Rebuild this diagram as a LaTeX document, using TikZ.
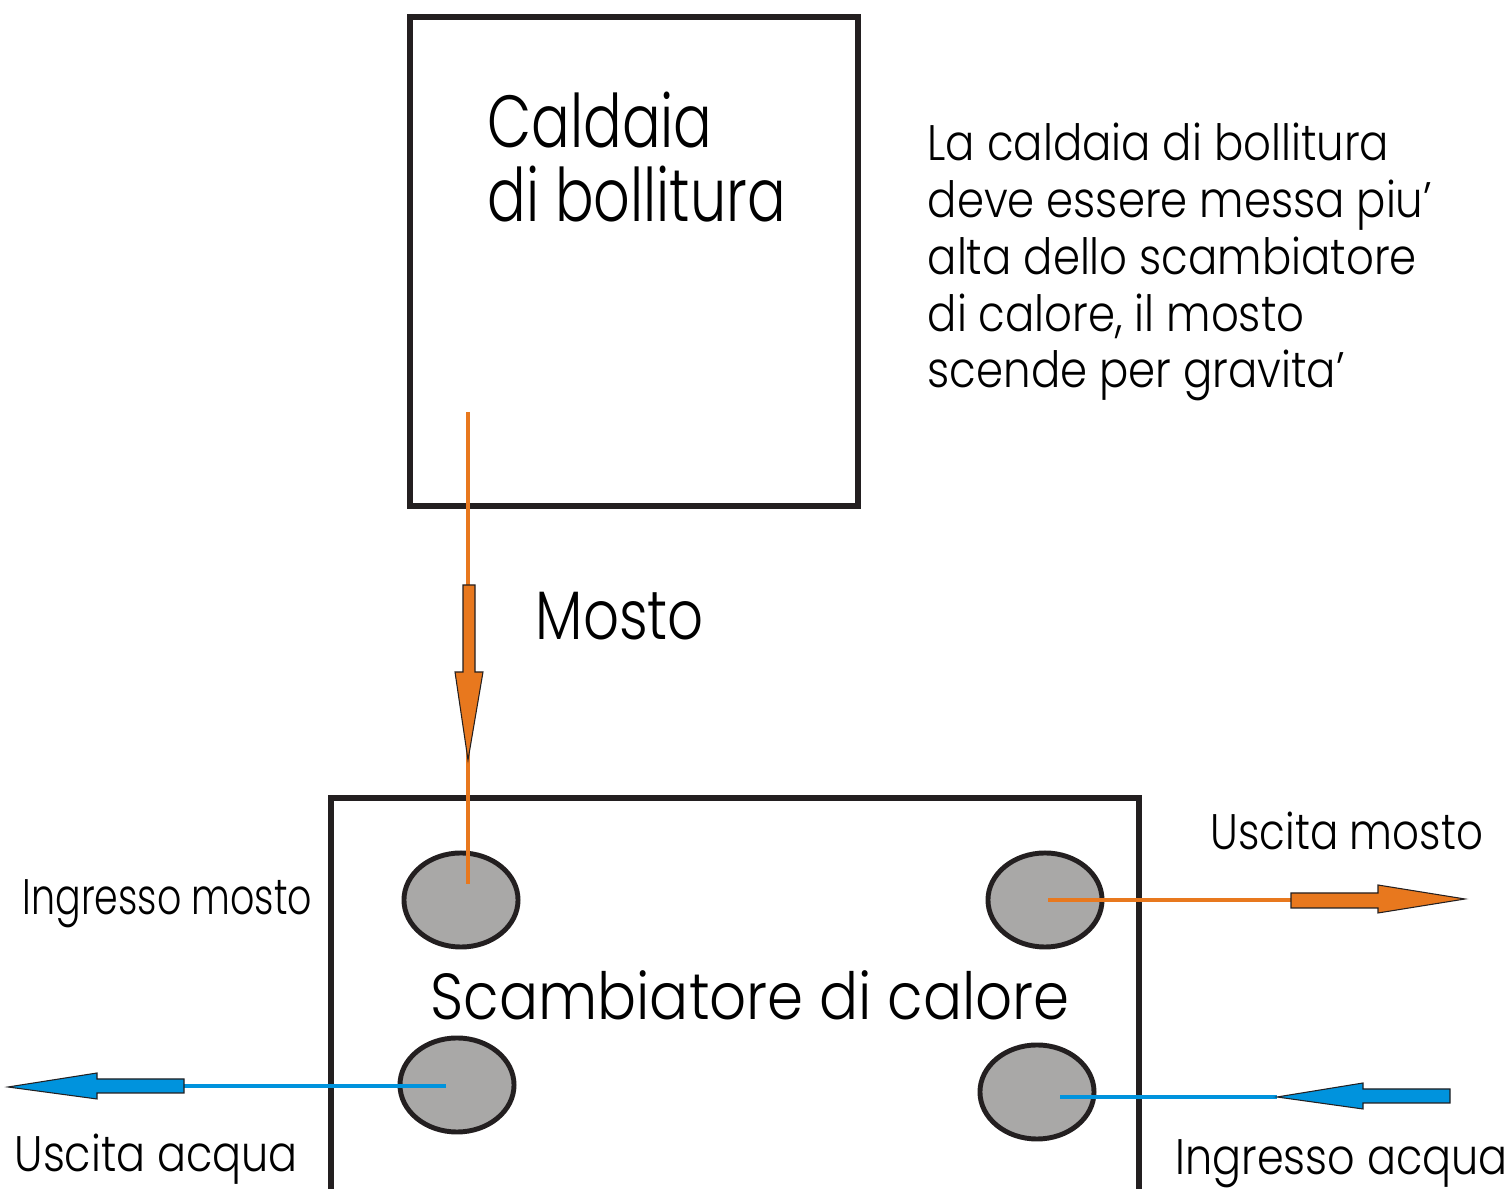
\documentclass[tikz,border=0pt]{standalone}
\usepackage{fontspec}
\IfFontExistsTF{Poppins Light}{\setmainfont{Poppins Light}}{\setmainfont{Poppins}}
\usetikzlibrary{shapes.geometric}
\definecolor{mostocolor}{RGB}{232,120,30}
\definecolor{acquacolor}{RGB}{0,147,221}
\definecolor{portacolor}{RGB}{169,168,167}
\definecolor{bordocolor}{RGB}{35,31,32}
\newcommand{\stretto}[1]{\addfontfeatures{FakeStretch=#1}}
\tikzset{
  vasca/.style={draw=bordocolor, line width=1.5pt},
  porta/.style={draw=bordocolor, ellipse, fill=portacolor, line width=1.4pt,
    minimum width=1.14cm, minimum height=0.94cm, inner sep=0pt},
  tubo/.style={line width=1.4pt},
  freccia/.style={draw=bordocolor, line width=0.3pt},
  testo/.style={inner sep=0pt, anchor=base west, align=left},
}

\begin{document}
\begin{tikzpicture}[x=0.01cm, y=-0.01cm]
    \useasboundingbox (0,0) rectangle (1511,1189);

    % Caldaia
    \draw[vasca] (410,17) rectangle (858,506);
    \node[testo, font=\fontsize{21}{21.3}\selectfont\stretto{0.775}] (caldaia) at (487,222) {Caldaia\\di bollitura};

    % Nota
    \node[testo, font=\fontsize{14.2}{16.2}\selectfont\stretto{0.87}] (nota) at (927,388)
      {La caldaia di bollitura\\deve essere messa piu'\\alta dello scambiatore\\di calore, il mosto\\scende per gravita'};

    % Scambiatore
    \draw[vasca] (331,1200) -- (331,798) -- (1139,798) -- (1139,1200);
    \node[testo, font=\fontsize{18.5}{20}\selectfont\stretto{0.89}] (scambiatore) at (430,1020) {Scambiatore di calore};

    % Porte
    \node[porta] (inmosto) at (461,900) {};
    \node[porta] (outmosto) at (1045,900) {};
    \node[porta] (outacqua) at (457,1085) {};
    \node[porta] (inacqua) at (1037,1092) {};

    % Tubi
    \coordinate (pesca) at (468,412);
    \coordinate (uscmosto) at (1291,900);
    \coordinate (uscacqua) at (184,1086);
    \coordinate (ingacqua) at (1277,1097);
    \draw[tubo, mostocolor] (pesca) -- ([shift={(7,-16)}]inmosto.center);
    \draw[tubo, mostocolor] ([shift={(3,0)}]outmosto.center) -- (uscmosto);
    \draw[tubo, acquacolor] ([shift={(-11,1)}]outacqua.center) -- (uscacqua);
    \draw[tubo, acquacolor] ([shift={(23,5)}]inacqua.center) -- (ingacqua);

    % Frecce
    \filldraw[freccia, fill=mostocolor] (463,585) -- (475,585) -- (475,672) -- (483,672)
      -- (468,760) -- (455,672) -- (463,672) -- cycle;
    \filldraw[freccia, fill=mostocolor] (1291,893) -- (1378,893) -- (1378,885) -- (1465,899)
      -- (1378,913) -- (1378,908) -- (1291,908) -- cycle;
    \filldraw[freccia, fill=acquacolor] (184,1079) -- (97,1079) -- (97,1073) -- (8,1087)
      -- (97,1099) -- (97,1093) -- (184,1093) -- cycle;
    \filldraw[freccia, fill=acquacolor] (1450,1089) -- (1363,1089) -- (1363,1083) -- (1277,1097)
      -- (1363,1109) -- (1363,1103) -- (1450,1103) -- cycle;

    % Etichette
    \node[testo, font=\fontsize{19.5}{20}\selectfont\stretto{0.82}] (mosto) at (535,640) {Mosto};
    \node[testo, font=\fontsize{14.2}{16}\selectfont\stretto{0.76}] (lbinmosto) at (22,915) {Ingresso mosto};
    \node[testo, font=\fontsize{14.2}{16}\selectfont\stretto{0.84}] (lboutmosto) at (1210,850) {Uscita mosto};
    \node[testo, font=\fontsize{14.2}{16}\selectfont\stretto{0.86}] (lboutacqua) at (14,1172) {Uscita acqua};
    \node[testo, font=\fontsize{14.2}{16}\selectfont\stretto{0.86}] (lbinacqua) at (1175,1175) {Ingresso acqua};
\end{tikzpicture}
\end{document}
